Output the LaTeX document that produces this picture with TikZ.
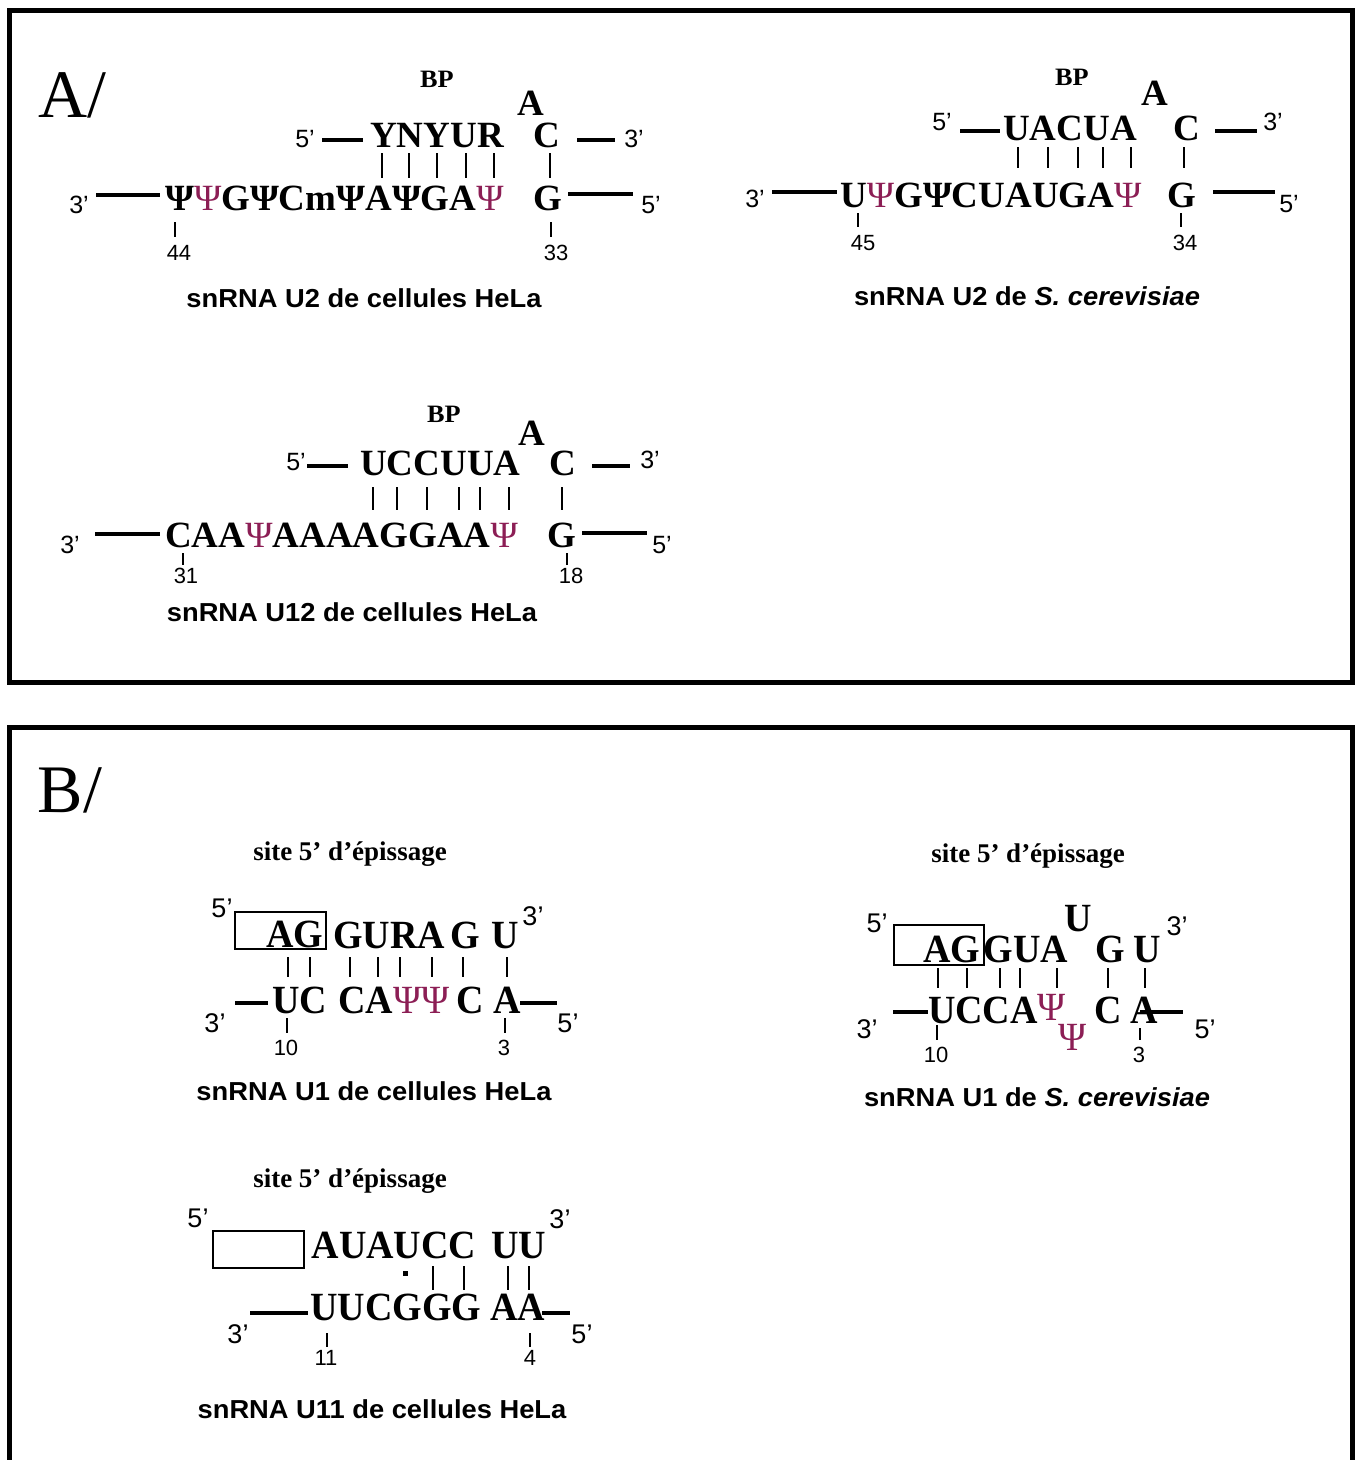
\documentclass[tikz,border=0pt]{standalone}
\usepackage{fontspec}
\setmainfont{Liberation Serif}
\setsansfont{Liberation Sans}
\newfontfamily\seqAfont{Liberation Serif}
\newfontfamily\seqBfont[FakeStretch=0.95]{Liberation Serif}
\newfontfamily\bpfont[FakeStretch=1.05]{Liberation Serif}
\newfontfamily\titlefont[FakeStretch=1.05]{Liberation Sans}
\usepackage{xcolor}
\definecolor{psi}{RGB}{140,30,85}
\newcommand{\psiC}{{\mdseries\color{psi}Ψ}}

\begin{document}
\begin{tikzpicture}[x=1pt, y=-1pt,
  every node/.style={inner sep=0pt, anchor=base},
  seqA/.style={font={\seqAfont\bfseries\fontsize{37}{39}\selectfont}},
  seqAw/.style={seqA, anchor=base west},
  seqB/.style={font={\seqBfont\bfseries\fontsize{40}{42}\selectfont}},
  bp/.style={font={\bpfont\bfseries\fontsize{25}{27}\selectfont}},
  site/.style={font={\rmfamily\bfseries\fontsize{27}{29}\selectfont}},
  primeA/.style={font={\sffamily\fontsize{25}{27}\selectfont}},
  primeB/.style={font={\sffamily\fontsize{27}{29}\selectfont}},
  num/.style={font={\sffamily\fontsize{22}{24}\selectfont}},
  title/.style={font={\titlefont\bfseries\fontsize{26}{28}\selectfont}},
  panel/.style={font={\rmfamily\fontsize{68}{70}\selectfont}},
  frame/.style={line width=5pt},
  strand/.style={line width=4.5pt},
  pair/.style={line width=2.2pt},
  tick/.style={line width=2pt},
  boxline/.style={line width=2pt}]
  \useasboundingbox (0,0) rectangle (1359,1460);

  % panel A
  \draw[frame] (9,10) rectangle (1352,682);
  \node[panel] (labA) at (72,117) {A/};

  % U2 HeLa
  \node[bp] (bpUh) at (437,87) {BP};
  \node[seqA] (aUh) at (531,115) {A};
  \node[primeA] (p5Uh) at (305,147) {5’};
  \draw[strand] (322,140) -- (363,140);
  \node[seqAw] (topUh) at (370,147) {YNYUR};
  \node[seqA] (cUh) at (547,147) {C};
  \draw[strand] (577,140) -- (615,140);
  \node[primeA] (p3Uh) at (634,147) {3’};
  \foreach \x in {382,409,437,466,494,550}
    \draw[pair] (\x,153) -- (\x,178);
  \node[primeA] (q3Uh) at (79,213) {3’};
  \draw[strand] (96,195) -- (160,195);
  \node[seqAw] (botUh) at (165,210) {Ψ\psiC GΨCmΨAΨGA\psiC};
  \node[seqA] (gUh) at (548,210) {G};
  \draw[strand] (568,194) -- (633,194);
  \node[primeA] (q5Uh) at (651,213) {5’};
  \draw[tick] (175,222) -- (175,237);
  \node[num] (n44) at (179,260) {44};
  \draw[tick] (551,222) -- (551,237);
  \node[num] (n33) at (556,260) {33};
  \node[title] (tUh) at (364,307) {snRNA U2 de cellules HeLa};

  % U2 S. cerevisiae
  \node[bp] (bpUs) at (1072,85) {BP};
  \node[seqA] (aUs) at (1155,105) {A};
  \node[primeA] (p5Us) at (942,130) {5’};
  \draw[strand] (960,131) -- (1000,131);
  \node[seqAw] (topUs) at (1003,140) {UACUA};
  \node[seqA] (cUs) at (1187,140) {C};
  \draw[strand] (1215,131) -- (1257,131);
  \node[primeA] (p3Us) at (1273,130) {3’};
  \foreach \x in {1018,1048,1078,1103,1131,1184}
    \draw[pair] (\x,147) -- (\x,168);
  \node[primeA] (q3Us) at (755,207) {3’};
  \draw[strand] (772,192) -- (837,192);
  \node[seqAw] (botUs) at (840,207) {U\psiC GΨCUAUGA\psiC};
  \node[seqA] (gUs) at (1182,207) {G};
  \draw[strand] (1213,192) -- (1275,192);
  \node[primeA] (q5Us) at (1289,212) {5’};
  \draw[tick] (858,213) -- (858,227);
  \node[num] (n45) at (863,250) {45};
  \draw[tick] (1181,213) -- (1181,227);
  \node[num] (n34) at (1185,250) {34};
  \node[title] (tUs) at (1027,305) {snRNA U2 de \textit{S. cerevisiae}};

  % U12 HeLa
  \node[bp] (bpV) at (444,422) {BP};
  \node[seqA] (aV) at (532,445) {A};
  \node[primeA] (p5V) at (296,470) {5’};
  \draw[strand] (307,466) -- (348,466);
  \node[seqAw] (topV) at (360,475) {UCCUUA};
  \node[seqA] (cV) at (563,475) {C};
  \draw[strand] (592,466) -- (630,466);
  \node[primeA] (p3V) at (650,468) {3’};
  \foreach \x in {373,397,427,459,480,509,562}
    \draw[pair] (\x,487) -- (\x,510);
  \node[primeA] (q3V) at (70,553) {3’};
  \draw[strand] (95,534) -- (160,534);
  \node[seqAw] (botV) at (165,547) {CAA\psiC AAAAGGAA\psiC};
  \node[seqA] (gV) at (562,547) {G};
  \draw[strand] (582,533) -- (647,533);
  \node[primeA] (q5V) at (662,553) {5’};
  \draw[tick] (183,553) -- (183,565);
  \node[num] (n31) at (186,583) {31};
  \draw[tick] (567,553) -- (567,565);
  \node[num] (n18) at (571,583) {18};
  \node[title] (tV) at (352,621) {snRNA U12 de cellules HeLa};

  % panel B
  \draw[frame] (9,1470) -- (9,727) -- (1352,727) -- (1352,1470);
  \node[panel] (labB) at (70,812) {B/};

  % U1 HeLa
  \node[site] (sW) at (350,860) {site 5’ d’épissage};
  \node[primeB] (p5W) at (222,917) {5’};
  \draw[boxline] (235,912) rectangle (326,949);
  \node[seqB] (agW) at (295,947) {AG};
  \node[seqB] (topW) at (389,948) {GURA};
  \node[seqB] (gW) at (465,948) {G};
  \node[seqB] (uW) at (505,948) {U};
  \node[primeB] (p3W) at (533,925) {3’};
  \foreach \x in {288,310,350,378,400,432,463,507}
    \draw[pair] (\x,957) -- (\x,977);
  \node[primeB] (q3W) at (215,1032) {3’};
  \draw[strand] (235,1003) -- (268,1003);
  \node[seqB] (ucW) at (300,1013) {UC};
  \node[seqB] (botW) at (394,1013) {CA\psiC\psiC};
  \node[seqB] (cW) at (470,1013) {C};
  \node[seqB] (aW) at (507,1013) {A};
  \draw[strand] (520,1003) -- (557,1003);
  \node[primeB] (q5W) at (568,1032) {5’};
  \draw[tick] (287,1018) -- (287,1033);
  \node[num] (n10W) at (286,1055) {10};
  \draw[tick] (505,1018) -- (505,1033);
  \node[num] (n3W) at (504,1055) {3};
  \node[title] (tW) at (374,1100) {snRNA U1 de cellules HeLa};

  % U1 S. cerevisiae
  \node[site] (sS) at (1028,862) {site 5’ d’épissage};
  \node[primeB] (p5S) at (877,932) {5’};
  \draw[boxline] (894,925) rectangle (984,965);
  \node[seqB] (agS) at (952,962) {AG};
  \node[seqB] (topS) at (1026,962) {GUA};
  \node[seqB] (uS) at (1078,931) {U};
  \node[seqB] (gS) at (1110,962) {G};
  \node[seqB] (u2S) at (1147,962) {U};
  \node[primeB] (p3S) at (1177,935) {3’};
  \foreach \x in {938,967,1000,1020,1057,1108,1145}
    \draw[pair] (\x,968) -- (\x,988);
  \node[primeB] (q3S) at (867,1038) {3’};
  \draw[strand] (893,1012) -- (928,1012);
  \node[seqB] (botS) at (983,1023) {UCCA};
  \node[seqB] (psi1S) at (1052,1020) {\psiC};
  \node[seqB] (psi2S) at (1073,1050) {\psiC};
  \node[seqB] (cS) at (1108,1023) {C};
  \node[seqB] (aS) at (1144,1023) {A};
  \draw[strand] (1140,1012) -- (1183,1012);
  \node[primeB] (q5S) at (1205,1038) {5’};
  \draw[tick] (937,1025) -- (937,1040);
  \node[num] (n10S) at (936,1062) {10};
  \draw[tick] (1140,1028) -- (1140,1040);
  \node[num] (n3S) at (1139,1062) {3};
  \node[title] (tS) at (1037,1106) {snRNA U1 de \textit{S. cerevisiae}};

  % U11 HeLa
  \node[site] (sX) at (350,1187) {site 5’ d’épissage};
  \node[primeB] (p5X) at (198,1227) {5’};
  \draw[boxline] (213,1231) rectangle (304,1268);
  \node[seqB] (topX) at (394,1258) {AUAUCC};
  \node[seqB] (uuX) at (519,1258) {UU};
  \node[primeB] (p3X) at (560,1228) {3’};
  \fill (402.5,1270.5) rectangle (407.5,1275.5);
  \foreach \x in {433,464,508,529}
    \draw[pair] (\x,1266) -- (\x,1290);
  \node[primeB] (q3X) at (238,1343) {3’};
  \draw[strand] (250,1313) -- (308,1313);
  \node[seqB] (botX) at (396,1320) {UUCGGG};
  \node[seqB] (aaX) at (518,1320) {AA};
  \draw[strand] (542,1313) -- (570,1313);
  \node[primeB] (q5X) at (582,1343) {5’};
  \draw[tick] (327,1333) -- (327,1347);
  \node[num] (n11) at (326,1365) {11};
  \draw[tick] (530,1333) -- (530,1347);
  \node[num] (n4) at (530,1365) {4};
  \node[title] (tX) at (382,1418) {snRNA U11 de cellules HeLa};
\end{tikzpicture}
\end{document}
